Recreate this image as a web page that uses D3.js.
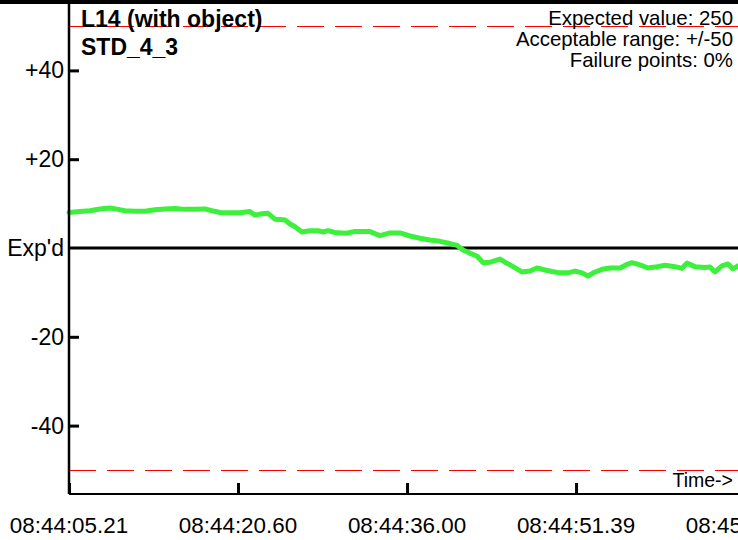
<!DOCTYPE html>
<html>
<head>
<meta charset="utf-8">
<script src="https://cdn.jsdelivr.net/npm/d3@7"></script>
<style>
  html, body { margin: 0; padding: 0; background: #fff; }
  svg { display: block; }
  text { font-family: "Liberation Sans", Arial, sans-serif; }
</style>
</head>
<body>
<svg id="chart" width="738" height="540"></svg>
<script>
// Reading times, seconds after 08:44:00
const times = [5.21, 6.21, 7.12, 8.03, 8.94, 9.67, 10.31, 11.22, 12.13, 13.04, 13.95, 14.86,
  15.77, 16.68, 17.59, 18.23, 18.96, 19.87, 20.78, 21.69, 22.15, 22.79, 23.33, 23.97,
  24.42, 24.88, 25.34, 25.79, 26.43, 27.16, 27.88, 28.34, 28.80, 29.43, 30.34, 31.25,
  32.16, 32.62, 33.53, 34.44, 35.35, 36.26, 37.17, 38.08, 38.99, 39.91, 40.54, 41.09,
  41.73, 42.36, 42.91, 43.55, 44.46, 44.91, 45.37, 45.92, 46.46, 47.19, 47.83, 48.56,
  49.19, 49.92, 50.65, 51.29, 51.93, 52.47, 53.11, 53.75, 54.48, 55.39, 56.02, 56.48,
  57.21, 57.94, 58.57, 59.48, 60.39, 61.03, 61.48, 62.21, 63.12, 63.58, 64.04, 64.67,
  65.22, 65.67, 66.13];

// Measured values
const readings = [258.0, 258.2, 258.4, 258.8, 259.0, 258.7, 258.4, 258.3, 258.3, 258.6, 258.8, 258.9,
  258.7, 258.7, 258.8, 258.4, 258.0, 257.95, 257.95, 258.2, 257.4, 257.7, 257.8, 256.5,
  256.4, 256.3, 255.4, 254.8, 253.6, 253.9, 253.9, 253.6, 253.9, 253.5, 253.3, 253.7,
  253.7, 253.7, 252.8, 253.4, 253.4, 252.7, 252.2, 251.8, 251.5, 251.0, 250.6, 249.55,
  248.8, 248.2, 246.7, 246.8, 247.5, 246.8, 246.2, 245.4, 244.6, 244.8, 245.5, 245.05,
  244.7, 244.4, 244.4, 244.8, 244.4, 243.7, 244.6, 245.2, 245.5, 245.5, 246.3, 246.7,
  246.2, 245.5, 245.7, 246.1, 245.8, 245.4, 246.6, 245.8, 245.6, 245.7, 244.6, 245.95,
  246.4, 245.3, 245.95];

const expectedValue = 250;
const tolerance = 50;
const failurePct = 0;

const yTickValues = [40, 20, 0, -20, -40];
const yTickLabels = ["+40", "+20", "Exp'd", "-20", "-40"];

const xTickValues = [5.21, 20.60, 35.995, 51.385, 66.77];
const xTickLabels = ["08:44:05.21", "08:44:20.60", "08:44:36.00", "08:44:51.39", "08:45:06.78"];

const titleLines = ["L14 (with object)", "STD_4_3"];

// Geometry
const W = 738, H = 540;
const plotLeft = 69, plotRight = 745, plotTop = 26, plotBottom = 470, axisY = 494;

const svg = d3.select("#chart");

const x = d3.scaleLinear().domain([xTickValues[0], xTickValues[xTickValues.length - 1]]).range([plotLeft, plotRight]);
const y = d3.scaleLinear().domain([-tolerance, tolerance]).range([plotBottom, plotTop]);

// Black band along the top edge
svg.append("rect").attr("x", 0).attr("y", 0).attr("width", W).attr("height", 4).attr("fill", "#000");

// Tolerance limits
[tolerance, -tolerance].forEach(v => {
  svg.append("line")
    .attr("x1", plotLeft).attr("x2", W)
    .attr("y1", Math.round(y(v)) + 0.5).attr("y2", Math.round(y(v)) + 0.5)
    .attr("stroke", "#f00").attr("stroke-width", 1.2)
    .attr("stroke-dasharray", "27,11");
});

// Expected value reference line
svg.append("line")
  .attr("x1", plotLeft).attr("x2", W)
  .attr("y1", y(0)).attr("y2", y(0))
  .attr("stroke", "#000").attr("stroke-width", 3);

// Measurement trace
const pts = times.map((t, i) => [t, readings[i] - expectedValue]);
svg.append("path")
  .datum(pts)
  .attr("fill", "none")
  .attr("stroke", "#3cf03c")
  .attr("stroke-width", 5)
  .attr("stroke-linejoin", "round")
  .attr("stroke-linecap", "round")
  .attr("d", d3.line().x(d => x(d[0])).y(d => y(d[1])));

// Left axis
svg.append("line")
  .attr("x1", plotLeft).attr("x2", plotLeft).attr("y1", 4).attr("y2", axisY)
  .attr("stroke", "#000").attr("stroke-width", 2.5);
const yAxis = d3.axisRight(y)
  .tickValues(yTickValues.filter(v => v !== 0))
  .tickSize(10)
  .tickFormat("");
const gy = svg.append("g").attr("transform", `translate(${plotLeft},0)`).call(yAxis);
gy.select(".domain").remove();
gy.selectAll(".tick line").attr("stroke", "#000").attr("stroke-width", 3);
yTickValues.forEach((v, i) => {
  svg.append("text")
    .attr("x", plotLeft - 5).attr("y", y(v) + 8)
    .attr("text-anchor", "end")
    .attr("font-size", 23)
    .attr("fill", "#000")
    .text(yTickLabels[i]);
});

// Bottom time axis
const xAxis = d3.axisTop(x)
  .tickValues(xTickValues)
  .tickSize(11)
  .tickFormat("");
const gx = svg.append("g").attr("transform", `translate(0,${axisY})`).call(xAxis);
gx.select(".domain").remove();
gx.selectAll(".tick line").attr("stroke", "#000").attr("stroke-width", 3);
svg.append("line")
  .attr("x1", plotLeft).attr("x2", W).attr("y1", axisY).attr("y2", axisY)
  .attr("stroke", "#000").attr("stroke-width", 2);
svg.selectAll("text.xlab")
  .data(xTickValues)
  .join("text")
  .attr("class", "xlab")
  .attr("x", d => x(d))
  .attr("y", 533)
  .attr("text-anchor", "middle")
  .attr("font-size", 22.4)
  .attr("fill", "#000")
  .text((d, i) => xTickLabels[i]);

svg.append("text")
  .attr("x", 733).attr("y", 487)
  .attr("text-anchor", "end")
  .attr("font-size", 19.5)
  .text("Time->");

// Title block
titleLines.forEach((s, i) => {
  svg.append("text")
    .attr("x", 81).attr("y", 27 + i * 28)
    .attr("font-size", 23)
    .attr("font-weight", "bold")
    .text(s);
});

// Summary block
const summary = [
  `Expected value: ${expectedValue}`,
  `Acceptable range: +/-${tolerance}`,
  `Failure points: ${failurePct}%`
];
summary.forEach((s, i) => {
  svg.append("text")
    .attr("x", 733).attr("y", 25 + i * 21)
    .attr("text-anchor", "end")
    .attr("font-size", 20.4)
    .text(s);
});
</script>
</body>
</html>
